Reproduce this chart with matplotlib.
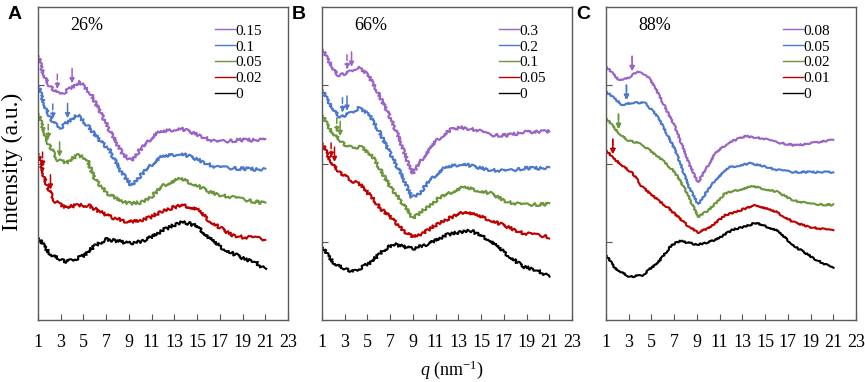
import numpy as np
import matplotlib
matplotlib.use("Agg")
import matplotlib.pyplot as plt

plt.rcParams['font.family'] = ['Liberation Serif', 'DejaVu Serif']
plt.rcParams['mathtext.fontset'] = 'custom'
plt.rcParams['mathtext.it'] = 'Liberation Serif:italic'
plt.rcParams['mathtext.rm'] = 'Liberation Serif'

# ---- data (q in nm^-1, intensity in stacked a.u.) ----
# Panel A, 26%
a_labels = ['0.15', '0.1', '0.05', '0.02', '0']
a_purple_q = [1, 1.4, 2, 2.6, 3.3, 4.7, 5.6, 6.4, 7.6, 8.5, 9.2, 10.2, 11.4, 13.5, 15.2, 16.7, 18.7, 21]
a_purple_y = [3.38, 3.17, 3.0, 2.90, 2.91, 3.04, 2.90, 2.68, 2.34, 2.11, 2.04, 2.21, 2.39, 2.45, 2.36, 2.27, 2.30, 2.30]
a_blue_q = [1, 1.5, 2.3, 3, 3.8, 4.5, 5.5, 6.4, 7.3, 8.2, 9.2, 10.5, 11.7, 13.6, 15.2, 16.7, 18.1, 21]
a_blue_y = [3.0, 2.77, 2.52, 2.46, 2.55, 2.62, 2.46, 2.30, 2.17, 1.92, 1.72, 1.92, 2.08, 2.13, 2.04, 1.95, 1.94, 1.92]
a_green_q = [1, 1.5, 1.9, 2.4, 2.8, 3.5, 4.5, 5.3, 6, 7, 8, 9, 10, 11, 12, 13.5, 15, 16, 17, 18, 19, 21]
a_green_y = [2.64, 2.42, 2.26, 2.12, 2.04, 2.01, 2.11, 2.06, 1.80, 1.63, 1.54, 1.49, 1.50, 1.58, 1.72, 1.81, 1.72, 1.64, 1.60, 1.57, 1.54, 1.49]
a_red_q = [1, 1.5, 2, 2.5, 3, 3.5, 4.5, 5.5, 6.5, 7.5, 9, 10, 11, 12, 13.7, 15, 16, 17, 18, 19, 20, 21]
a_red_y = [2.13, 1.85, 1.64, 1.52, 1.47, 1.44, 1.47, 1.46, 1.38, 1.31, 1.25, 1.27, 1.32, 1.40, 1.47, 1.42, 1.28, 1.18, 1.09, 1.06, 1.05, 1.03]
a_black_q = [1, 2, 3.5, 5, 6, 7, 8, 9, 10, 11, 12, 13.7, 15, 16, 17, 18, 19.3, 20, 21]
a_black_y = [1.05, 0.85, 0.74, 0.82, 0.95, 1.03, 1.01, 0.98, 1.0, 1.06, 1.15, 1.26, 1.20, 1.06, 0.94, 0.86, 0.77, 0.76, 0.64]
a_arrows = [[2.7, 4.0], [2.3, 3.6], [1.9, 2.9], [1.4, 2.1]]

# Panel B, 66%
b_labels = ['0.3', '0.2', '0.1', '0.05', '0']
b_purple_q = [1, 1.7, 2.4, 3.2, 4.1, 5.0, 5.8, 6.7, 7.6, 8.5, 9.0, 9.9, 11.1, 12.3, 13.2, 14.6, 15.8, 17.3, 18.8, 21]
b_purple_y = [3.46, 3.28, 3.13, 3.15, 3.23, 3.15, 2.94, 2.68, 2.39, 2.04, 1.88, 2.08, 2.30, 2.43, 2.46, 2.43, 2.36, 2.36, 2.40, 2.41]
b_blue_q = [1, 1.7, 2.6, 3.5, 4.2, 5.1, 6.1, 7.0, 7.9, 8.9, 9.6, 10.5, 11.7, 13.4, 14.6, 15.8, 17.3, 18.8, 21]
b_blue_y = [2.94, 2.75, 2.59, 2.64, 2.71, 2.64, 2.39, 2.13, 1.88, 1.57, 1.62, 1.79, 1.94, 2.0, 1.95, 1.92, 1.90, 1.94, 1.94]
b_green_q = [1, 1.7, 2.6, 3.2, 4.5, 5.5, 6.3, 7.0, 7.9, 9.0, 9.9, 11.4, 13.4, 15.8, 17.3, 18.7, 21]
b_green_y = [2.62, 2.43, 2.30, 2.21, 2.21, 2.08, 1.88, 1.70, 1.53, 1.30, 1.40, 1.57, 1.70, 1.62, 1.51, 1.47, 1.48]
b_red_q = [1, 1.7, 2.6, 3.5, 4.5, 5.0, 5.5, 6.1, 7.0, 8.1, 9.0, 9.9, 11.4, 13.6, 15.8, 17.3, 18.7, 21]
b_red_y = [2.26, 2.04, 1.88, 1.79, 1.72, 1.63, 1.55, 1.43, 1.32, 1.15, 1.06, 1.11, 1.25, 1.39, 1.28, 1.19, 1.11, 1.06]
b_black_q = [1, 2.0, 3.7, 5.2, 6.4, 7.3, 9.0, 10.5, 12.0, 14.0, 15.8, 17.0, 18.7, 19.9, 21]
b_black_y = [0.93, 0.73, 0.61, 0.73, 0.89, 0.97, 0.91, 0.98, 1.09, 1.15, 1.02, 0.87, 0.68, 0.64, 0.55]
b_arrows = [[3.2, 3.6], [2.8, 3.2], [2.3, 2.6], [1.8, 2.1]]

# Panel C, 88%
c_labels = ['0.08', '0.05', '0.02', '0.01', '0']
c_purple_q = [1, 2.1, 2.9, 3.7, 4.6, 5.3, 6.2, 7.1, 8.3, 9.1, 10.6, 11.8, 13.3, 14.8, 16.0, 17.7, 19.5, 21]
c_purple_y = [3.24, 3.07, 3.09, 3.17, 3.13, 2.98, 2.72, 2.46, 2.0, 1.76, 2.13, 2.27, 2.35, 2.32, 2.27, 2.23, 2.27, 2.30]
c_blue_q = [1, 2.4, 3.4, 4.5, 5.6, 7.1, 8.3, 9.1, 10.6, 11.8, 13.6, 14.8, 16, 17.4, 21]
c_blue_y = [2.92, 2.75, 2.78, 2.77, 2.59, 2.17, 1.70, 1.48, 1.79, 1.95, 2.0, 1.97, 1.92, 1.89, 1.89]
c_green_q = [1, 2.1, 2.9, 4.2, 6.0, 7.1, 8.0, 9.1, 10.0, 11.5, 13.9, 16.0, 17.5, 19, 21]
c_green_y = [2.58, 2.39, 2.30, 2.24, 2.04, 1.88, 1.66, 1.32, 1.40, 1.62, 1.71, 1.64, 1.53, 1.48, 1.47]
c_red_q = [1, 1.6, 3.3, 4.2, 5.6, 6.5, 8.3, 9.1, 10, 11.5, 14.2, 16, 17.5, 18.9, 21]
c_red_y = [2.17, 2.07, 1.88, 1.70, 1.53, 1.43, 1.19, 1.12, 1.17, 1.34, 1.47, 1.38, 1.25, 1.19, 1.14]
c_black_q = [1, 1.8, 3.1, 4.2, 5.6, 6.8, 7.5, 9.1, 10.6, 12.1, 14.2, 16, 17.7, 19.5, 21]
c_black_y = [0.83, 0.66, 0.55, 0.57, 0.74, 0.96, 1.01, 0.96, 1.02, 1.15, 1.24, 1.15, 0.93, 0.77, 0.66]
c_arrows = [[3.3, 3.3], [2.8, 2.8], [2.1, 2.1], [1.6, 1.6]]

colors = ['#9b62c8', '#4a78cf', '#6b963c', '#c00000', '#000000']
xticks = np.arange(1, 24, 2)

panels = [
    ('A', '26%', a_labels,
     [(a_purple_q, a_purple_y), (a_blue_q, a_blue_y), (a_green_q, a_green_y),
      (a_red_q, a_red_y), (a_black_q, a_black_y)], a_arrows, 1.6),
    ('B', '66%', b_labels,
     [(b_purple_q, b_purple_y), (b_blue_q, b_blue_y), (b_green_q, b_green_y),
      (b_red_q, b_red_y), (b_black_q, b_black_y)], b_arrows, 1.5),
    ('C', '88%', c_labels,
     [(c_purple_q, c_purple_y), (c_blue_q, c_blue_y), (c_green_q, c_green_y),
      (c_red_q, c_red_y), (c_black_q, c_black_y)], c_arrows, 0.8),
]

fig = plt.figure(figsize=(8.65, 3.82), dpi=100)
lefts = [38 / 865, 322 / 865, 606 / 865]
width = 250 / 865
bottom = 62 / 382
height = 313 / 382

for (letter, pct, labels, curves, arrows, noise), left in zip(panels, lefts):
    ax = fig.add_axes([left, bottom, width, height])
    for (q, y), col, lab in zip(curves, colors, labels):
        line, = ax.plot(q, y, color=col, lw=1.5, label=lab)
        line.set_sketch_params(noise, 1.2, 1.5)
    # arrows marking peak positions (dashed + solid)
    for (q, y), col, pair in zip(curves[:4], colors[:4], arrows):
        for k, qa in enumerate(pair):
            yc = np.interp(qa, q, y)
            ls = '--' if k == 0 else '-'
            ax.annotate('', xy=(qa, yc + 0.05), xytext=(qa, yc + 0.24),
                        arrowprops=dict(arrowstyle='-|>', color=col, lw=1.1,
                                        linestyle=ls, mutation_scale=7,
                                        shrinkA=0, shrinkB=0))
    ax.set_xlim(1, 23)
    ax.set_ylim(0, 4)
    ax.set_xticks(xticks)
    ax.set_yticks([1, 2, 3])
    ax.set_yticklabels([])
    ax.tick_params(axis='both', direction='in', length=4, width=0.8,
                   color='#555555', labelsize=13, pad=10)
    for s in ax.spines.values():
        s.set_color('#595959')
        s.set_linewidth(1.0)
    leg = ax.legend(loc='upper right', frameon=False, fontsize=11,
                    handlelength=1.3, handletextpad=0.0, labelspacing=0.14,
                    borderaxespad=0.0, bbox_to_anchor=(0.92, 0.965))
    for h in leg.get_lines():
        h.set_linewidth(1.0)
        h.set_sketch_params(None)
    ax.text(0.13, 0.94, pct, transform=ax.transAxes, fontsize=13,
            ha='left', va='center')
    fig.text(left - 30 / 865, 0.985, letter, fontsize=14, fontweight='bold',
             family='Liberation Sans', ha='left', va='top')

fig.text(12 / 865, 0.576, 'Intensity (a.u.)', rotation=90, fontsize=17,
         ha='center', va='center')
fig.text(452 / 865, 12 / 382, r'$q$ (nm$^{-1}$)', fontsize=13,
         ha='center', va='center')

fig.savefig('out.png', dpi=100)
